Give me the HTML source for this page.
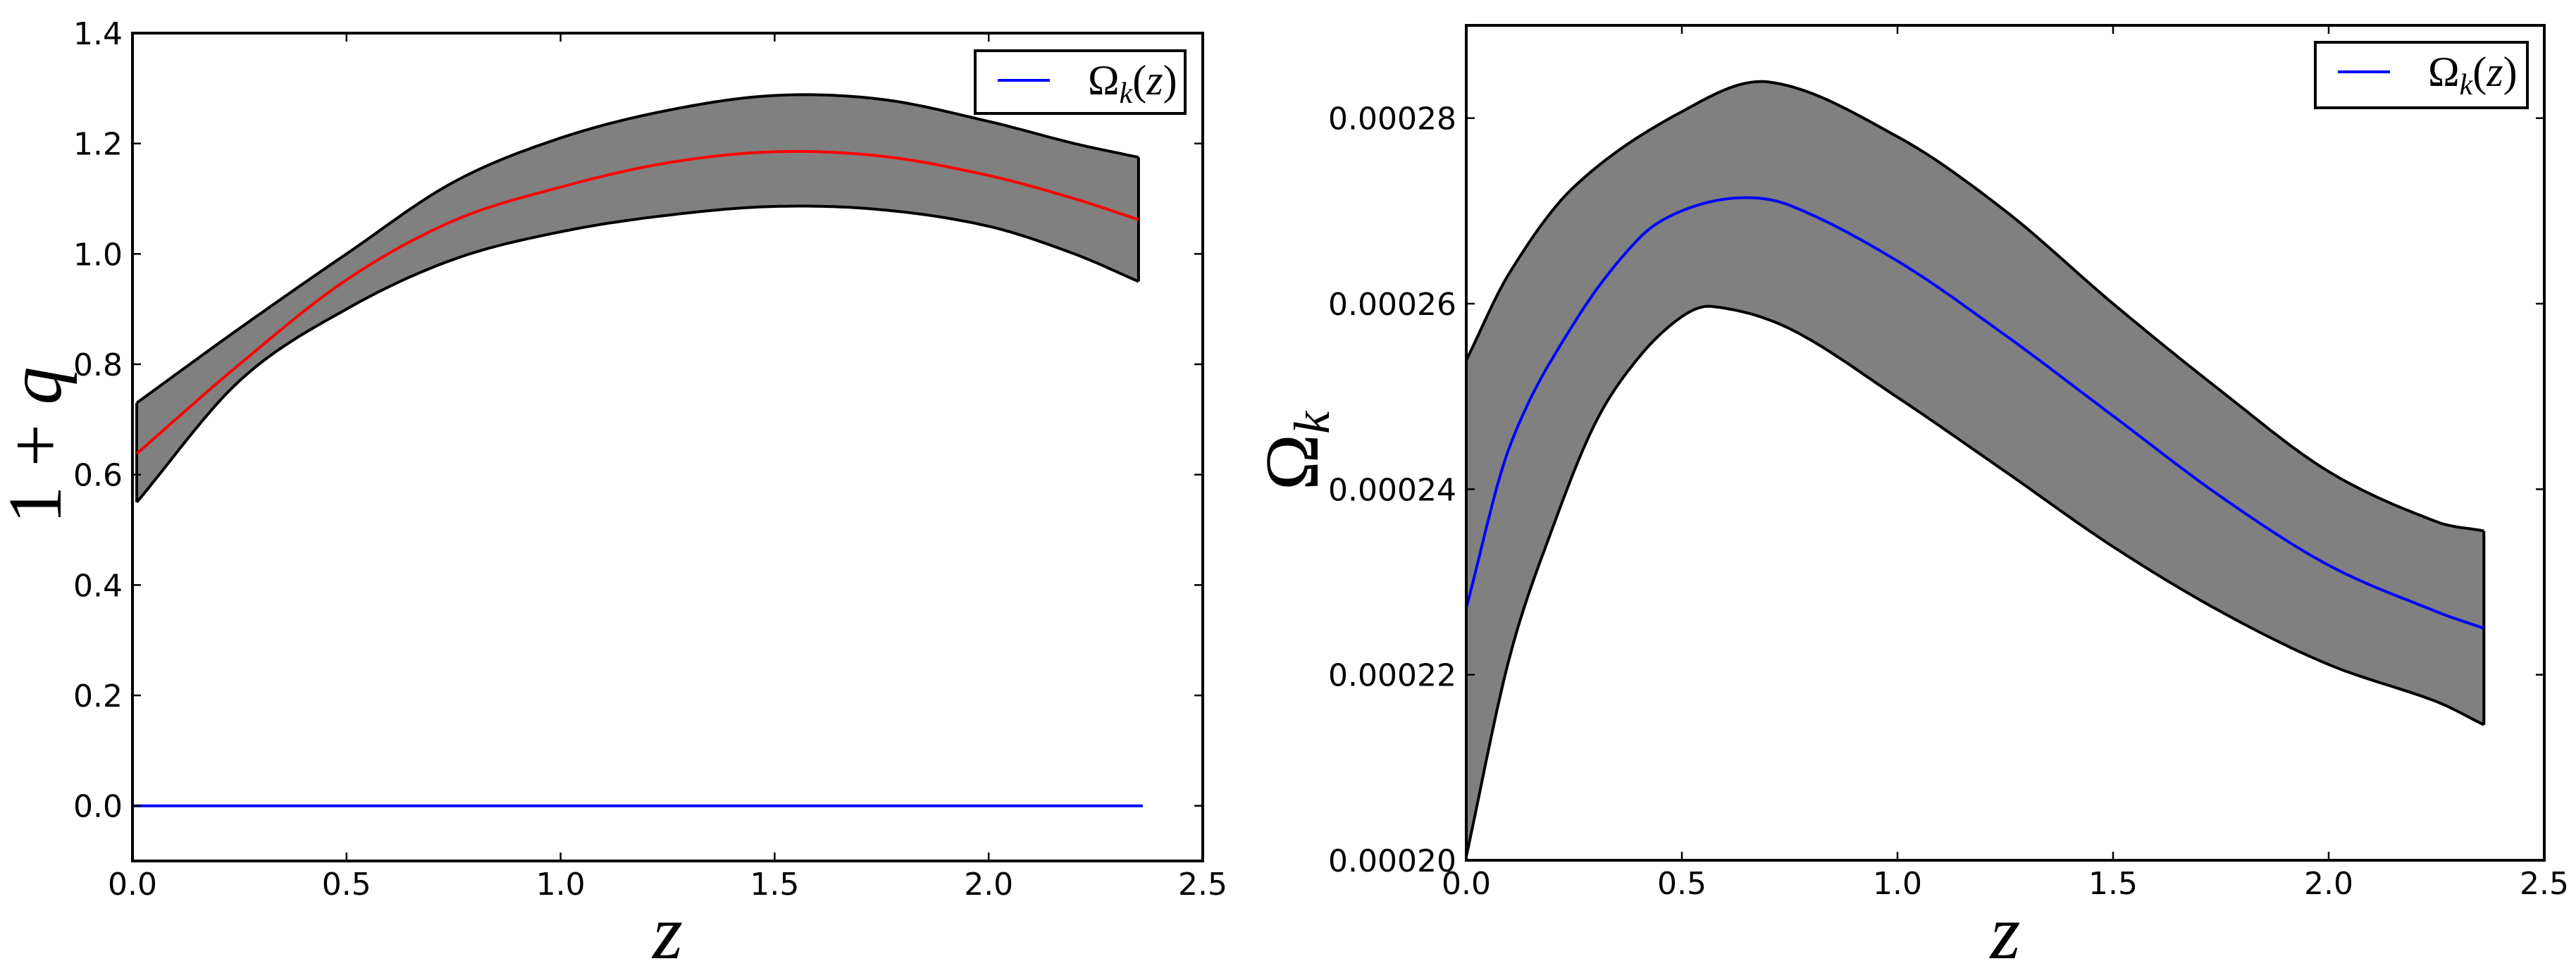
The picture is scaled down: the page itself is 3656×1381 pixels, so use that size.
<!DOCTYPE html>
<html><head><meta charset="utf-8"><style>
html,body{margin:0;padding:0;background:#fff;}
svg{display:block;}
text{font-family:"DejaVu Sans","Liberation Sans",sans-serif;}
.tk{font-size:44px;}
.math{font-family:"Liberation Serif","DejaVu Serif",serif;font-style:italic;}
</style></head><body>
<svg id="fig" width="3656" height="1381" viewBox="0 0 3656 1381" xmlns="http://www.w3.org/2000/svg"></svg>
<script>
// ---- Left panel data: 1+q(z)
const zL = [0.01,0.25,0.5,0.75,1.0,1.25,1.5,1.75,2.0,2.2,2.35];
const qMean = [0.638,0.80,0.953,1.06,1.121,1.165,1.185,1.177,1.142,1.10,1.062];
const qUpper = [0.73,0.865,1.0,1.13,1.21,1.26,1.287,1.28,1.24,1.20,1.175];
const qLower = [0.55,0.77,0.90,0.99,1.04,1.07,1.086,1.08,1.05,1.0,0.95];
const zFlat = [0.0,2.36];
const omegaFlat = [0,0];
const xTicksL = [0,0.5,1.0,1.5,2.0,2.5];
const xTickLabelsL = ["0.0","0.5","1.0","1.5","2.0","2.5"];
const yTicksL = [0,0.2,0.4,0.6,0.8,1.0,1.2,1.4];
const yTickLabelsL = ["0.0","0.2","0.4","0.6","0.8","1.0","1.2","1.4"];
// ---- Right panel data: Omega_k(z), in units of 1e-5
const zR = [0,0.1,0.25,0.4,0.5,0.63,0.75,1.0,1.25,1.5,1.75,2.0,2.25,2.36];
const okMean = [22.72,24.45,25.79,26.70,27.00,27.14,27.06,26.46,25.66,24.79,23.92,23.18,22.68,22.50];
const zRU = [0,0.1,0.25,0.5,0.7,1.0,1.25,1.5,1.75,2.0,2.25,2.36];
const okUpper = [25.39,26.33,27.26,28.07,28.39,27.80,27.0,26.0,25.06,24.19,23.65,23.55];
const zRL = [0,0.1,0.2,0.3,0.4,0.5,0.57,0.75,1.0,1.25,1.5,1.75,2.0,2.25,2.36];
const okLower = [20.04,22.18,23.58,24.72,25.42,25.86,25.97,25.73,24.99,24.19,23.38,22.68,22.11,21.71,21.46];
const xTicksR = [0,0.5,1.0,1.5,2.0,2.5];
const xTickLabelsR = ["0.0","0.5","1.0","1.5","2.0","2.5"];
const yTicksR = [20,22,24,26,28];
const yTickLabelsR = ["0.00020","0.00022","0.00024","0.00026","0.00028"];

const NS="http://www.w3.org/2000/svg";
const svg=document.getElementById('fig');
function mk(tag,attrs,parent){const e=document.createElementNS(NS,tag);for(const k in attrs)e.setAttribute(k,attrs[k]);(parent||svg).appendChild(e);return e;}
// cubic Hermite sampled in data space (handles uneven spacing)
function samples(xs,ys){
  const n=xs.length,m=[];
  for(let i=0;i<n;i++){
    if(i===0)m.push((ys[1]-ys[0])/(xs[1]-xs[0]));
    else if(i===n-1)m.push((ys[n-1]-ys[n-2])/(xs[n-1]-xs[n-2]));
    else m.push((ys[i+1]-ys[i-1])/(xs[i+1]-xs[i-1]));
  }
  const pts=[];
  for(let i=0;i<n-1;i++){
    const h=xs[i+1]-xs[i];
    const steps=20;
    for(let s=0;s<steps;s++){
      const t=s/steps,t2=t*t,t3=t2*t;
      const y=(2*t3-3*t2+1)*ys[i]+(t3-2*t2+t)*h*m[i]+(-2*t3+3*t2)*ys[i+1]+(t3-t2)*h*m[i+1];
      pts.push([xs[i]+t*h,y]);
    }
  }
  pts.push([xs[n-1],ys[n-1]]);
  return pts;
}
function pathOf(pts,X,Y,start){
  return pts.map((p,i)=>(i===0?(start||"M"):"L")+X(p[0]).toFixed(1)+","+Y(p[1]).toFixed(1)).join(" ");
}

function panel(o){
  const g=mk('g',{});
  
  
  const X=v=>o.x0+(v-o.xmin)/(o.xmax-o.xmin)*(o.x1-o.x0);
  const Y=v=>o.y1-(v-o.ymin)/(o.ymax-o.ymin)*(o.y1-o.y0);
  const up=samples(o.zU,o.up), lo=samples(o.zLw,o.lo);
  const band=mk('path',{d:pathOf(up,X,Y)+" "+pathOf(lo.slice().reverse(),X,Y,"L")+" Z",fill:"#808080",stroke:"none"},g);
  
  
  const ub=mk('path',{d:pathOf(up,X,Y),fill:"none",stroke:"#000","stroke-width":4},g);
  
  
  const lb=mk('path',{d:pathOf(lo,X,Y),fill:"none",stroke:"#000","stroke-width":4},g);
  
  
  const e1=mk('line',{x1:X(o.zU[o.zU.length-1]),y1:Y(o.up[o.up.length-1]),x2:X(o.zLw[o.zLw.length-1]),y2:Y(o.lo[o.lo.length-1]),stroke:"#000","stroke-width":4},g);
  
  
  const e0=mk('line',{x1:X(o.zU[0]),y1:Y(o.up[0]),x2:X(o.zLw[0]),y2:Y(o.lo[0]),stroke:"#000","stroke-width":4},g);
  
  
  o.lines.forEach(L=>{
    const p=mk('path',{d:pathOf(samples(L.x,L.y),X,Y),fill:"none",stroke:L.c,"stroke-width":4},g);
    
    
  });
  o.xt.forEach((t,i)=>{
    const x=X(t);
    mk('line',{x1:x,y1:o.y1,x2:x,y2:o.y1-12,stroke:"#000","stroke-width":2.5},g);
    mk('line',{x1:x,y1:o.y0,x2:x,y2:o.y0+12,stroke:"#000","stroke-width":2.5},g);
    const tx=mk('text',{x:x,y:o.y1+48,"text-anchor":"middle",class:"tk"},g);
    tx.textContent=o.xtl[i];
    
    
  });
  o.yt.forEach((t,i)=>{
    const y=Y(t);
    mk('line',{x1:o.x0,y1:y,x2:o.x0+12,y2:y,stroke:"#000","stroke-width":2.5},g);
    mk('line',{x1:o.x1,y1:y,x2:o.x1-12,y2:y,stroke:"#000","stroke-width":2.5},g);
    const tx=mk('text',{x:o.x0-14,y:y+16,"text-anchor":"end",class:"tk"},g);
    tx.textContent=o.ytl[i];
    
    
  });
  const fr=mk('rect',{x:o.x0,y:o.y0,width:o.x1-o.x0,height:o.y1-o.y0,fill:"none",stroke:"#000","stroke-width":4},g);
  
  
  const lg=mk('g',{},g);
  
  
  mk('rect',{x:o.lg[0],y:o.lg[1],width:o.lg[2],height:o.lg[3],fill:"#fff",stroke:"#000","stroke-width":4},lg);
  mk('line',{x1:o.lg[0]+32,y1:o.lg[1]+42,x2:o.lg[0]+106,y2:o.lg[1]+42,stroke:"#0000ff","stroke-width":4},lg);
  const lt=mk('text',{x:o.lg[0]+160,y:o.lg[1]+62,"font-size":"60px"},lg);
  lt.setAttribute('class','math');
  lt.innerHTML='<tspan font-style="normal">Ω</tspan><tspan font-size="42px" dy="12">k</tspan><tspan dy="-12" font-style="normal">(</tspan>z<tspan font-style="normal">)</tspan>';
  
  
  const xl=mk('text',{x:(o.x0+o.x1)/2,y:1360,"text-anchor":"middle","font-size":"110px",class:"math"},g);
  xl.textContent="z";
  
  
  const yl=mk('text',{x:0,y:0,"text-anchor":"middle","font-size":o.ylfs,class:"math",transform:"translate("+o.ylx+","+o.yly+") rotate(-90)"},g);
  yl.innerHTML=o.ylabel;
  
  
}

panel({name:'deceleration-panel',x0:188,x1:1707,y0:47,y1:1222,xmin:0,xmax:2.5,ymin:-0.1,ymax:1.4,
  zU:zL,up:qUpper,zLw:zL,lo:qLower,
  lines:[{x:zL,y:qMean,c:"#ff0000",name:'mean-1-plus-q'},{x:zFlat,y:omegaFlat,c:"#0000ff",name:'omega-k-zero-line'}],
  xt:xTicksL,xtl:xTickLabelsL,yt:yTicksL,ytl:yTickLabelsL,
  lg:[1384,72,298,89],ylx:86,yly:632,ylfs:"108px",
  ylabel:'<tspan font-style="normal">1 + </tspan>q'});
panel({name:'omega-k-panel',x0:2081,x1:3611,y0:36,y1:1221,xmin:0,xmax:2.5,ymin:20,ymax:29,
  zU:zRU,up:okUpper,zLw:zRL,lo:okLower,
  lines:[{x:zR,y:okMean,c:"#0000ff",name:'mean-omega-k'}],
  xt:xTicksR,xtl:xTickLabelsR,yt:yTicksR,ytl:yTickLabelsR,
  lg:[3286,60,301,93],ylx:1870,yly:640,ylfs:"108px",
  ylabel:'<tspan font-style="normal">Ω</tspan><tspan font-size="72px" dy="16">k</tspan>'});
</script>
</body></html>
